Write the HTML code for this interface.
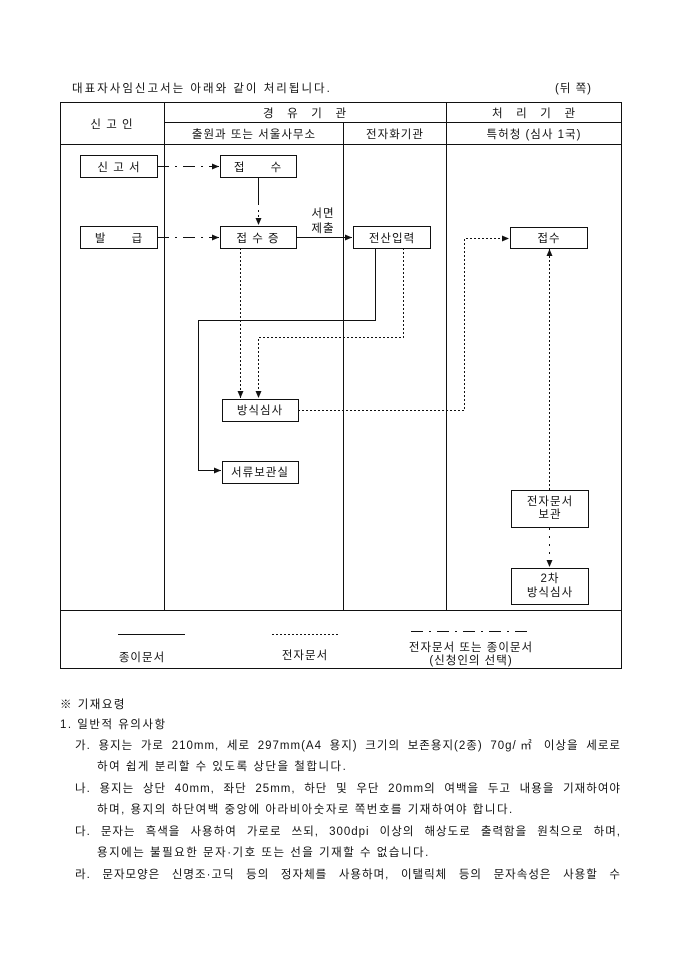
<!DOCTYPE html>
<html><head><meta charset="utf-8"><style>
body{margin:0;background:#fff;width:680px;height:962px;overflow:hidden;font-family:"Liberation Sans","Noto Sans CJK KR","NanumGothic",sans-serif;color:#111}
svg text{font-family:"Liberation Sans","Noto Sans CJK KR","NanumGothic",sans-serif;font-size:11.5px;fill:#111;white-space:pre;letter-spacing:1px}
.t{position:absolute;font-size:11.5px;line-height:14px;white-space:nowrap;letter-spacing:1.5px}
.j{position:absolute;font-size:11.5px;line-height:14px;text-align:justify;text-align-last:justify;white-space:nowrap;letter-spacing:1px}
</style></head><body>
<svg width="680" height="700" style="position:absolute;left:0;top:0">
<defs><marker id="a" markerWidth="8" markerHeight="8" refX="7" refY="4" orient="auto" markerUnits="userSpaceOnUse"><path d="M0,1 L7,4 L0,7 z" fill="#111"/></marker></defs>
<text x="72" y="92" style="letter-spacing:2px">대표자사임신고서는 아래와 같이 처리됩니다.</text>
<text x="555" y="92">(뒤 쪽)</text>
<g stroke="#111" fill="none" stroke-width="1">
<rect x="60.5" y="102.5" width="561" height="566"/>
<line x1="164.5" y1="102" x2="164.5" y2="610"/>
<line x1="343.5" y1="122" x2="343.5" y2="610"/>
<line x1="446.5" y1="102" x2="446.5" y2="610"/>
<line x1="164" y1="122.5" x2="621" y2="122.5"/>
<line x1="60" y1="144.5" x2="621" y2="144.5"/>
<line x1="60" y1="610.5" x2="621" y2="610.5"/>
<rect x="80.5" y="155.5" width="77" height="22"/>
<rect x="220.5" y="155.5" width="76" height="22"/>
<rect x="80.5" y="226.5" width="77" height="22"/>
<rect x="220.5" y="226.5" width="76" height="22"/>
<rect x="353.5" y="226.5" width="77" height="22"/>
<rect x="510.5" y="227.5" width="77" height="21"/>
<rect x="222.5" y="399.5" width="76" height="22"/>
<rect x="222.5" y="461.5" width="76" height="22"/>
<rect x="511.5" y="490.5" width="77" height="37"/>
<rect x="511.5" y="568.5" width="77" height="36"/>
<line x1="157" y1="166.5" x2="219" y2="166.5" stroke-dasharray="12,6,2,6" marker-end="url(#a)"/>
<line x1="258.5" y1="177" x2="258.5" y2="205"/>
<line x1="258.5" y1="210" x2="258.5" y2="225" stroke-dasharray="2,3" marker-end="url(#a)"/>
<line x1="157" y1="237.5" x2="219" y2="237.5" stroke-dasharray="12,6,2,6" marker-end="url(#a)"/>
<line x1="296" y1="237.5" x2="352" y2="237.5" marker-end="url(#a)"/>
<line x1="240.5" y1="248" x2="240.5" y2="398" stroke-dasharray="2,2" marker-end="url(#a)"/>
<polyline points="375.5,248 375.5,320.5 198.5,320.5 198.5,470.5 221,470.5" marker-end="url(#a)"/>
<polyline points="403.5,248 403.5,337.5 258.5,337.5 258.5,398" stroke-dasharray="2,2" marker-end="url(#a)"/>
<polyline points="298,410.5 464.5,410.5 464.5,238.5 509,238.5" stroke-dasharray="2,2" marker-end="url(#a)"/>
<line x1="549.5" y1="490" x2="549.5" y2="249" stroke-dasharray="2,2" marker-end="url(#a)"/>
<line x1="549.5" y1="528" x2="549.5" y2="567" stroke-dasharray="2,6,2,6" marker-end="url(#a)"/>
<line x1="118" y1="634.5" x2="185" y2="634.5"/>
<line x1="272" y1="634.5" x2="338" y2="634.5" stroke-dasharray="2,2"/>
<line x1="411" y1="631.5" x2="532" y2="631.5" stroke-dasharray="12,6,2,6"/>
</g>
<g text-anchor="middle">
<text x="112" y="128">신 고 인</text>
<text x="305" y="117">경   유   기   관</text>
<text x="534" y="117">처   리   기   관</text>
<text x="254" y="138">출원과 또는 서울사무소</text>
<text x="395" y="138">전자화기관</text>
<text x="534" y="138">특허청 (심사 1국)</text>
<text x="119" y="171">신 고 서</text>
<text x="258" y="171">접      수</text>
<text x="119" y="242">발      급</text>
<text x="258" y="242">접 수 증</text>
<text x="392" y="242">전산입력</text>
<text x="549" y="242">접수</text>
<text x="323" y="217" font-size="10.5">서면</text>
<text x="323" y="232" font-size="10.5">제출</text>
<text x="260" y="414">방식심사</text>
<text x="260" y="476">서류보관실</text>
<text x="550" y="505">전자문서</text>
<text x="550" y="518">보관</text>
<text x="550" y="582">2차</text>
<text x="550" y="596">방식심사</text>
<text x="142" y="661">종이문서</text>
<text x="305" y="659">전자문서</text>
<text x="471" y="651">전자문서 또는 종이문서</text>
<text x="471" y="664">(신청인의 선택)</text>
</g>
</svg>
<div class="t" style="left:60px;top:698px">※ 기재요령</div>
<div class="t" style="left:60px;top:718px">1. 일반적 유의사항</div>
<div class="j" style="left:75px;top:739px;width:546px">가. 용지는 가로 210mm, 세로 297mm(A4 용지) 크기의 보존용지(2종) 70g/㎡ 이상을 세로로</div>
<div class="t" style="left:97px;top:760px">하여 쉽게 분리할 수 있도록 상단을 철합니다.</div>
<div class="j" style="left:75px;top:782px;width:546px">나. 용지는 상단 40mm, 좌단 25mm, 하단 및 우단 20mm의 여백을 두고 내용을 기재하여야</div>
<div class="t" style="left:97px;top:803px">하며, 용지의 하단여백 중앙에 아라비아숫자로 쪽번호를 기재하여야 합니다.</div>
<div class="j" style="left:75px;top:825px;width:546px">다. 문자는 흑색을 사용하여 가로로 쓰되, 300dpi 이상의 해상도로 출력함을 원칙으로 하며,</div>
<div class="t" style="left:97px;top:846px">용지에는 불필요한 문자·기호 또는 선을 기재할 수 없습니다.</div>
<div class="j" style="left:75px;top:868px;width:546px">라. 문자모양은 신명조·고딕 등의 정자체를 사용하며, 이탤릭체 등의 문자속성은 사용할 수</div>
</body></html>
